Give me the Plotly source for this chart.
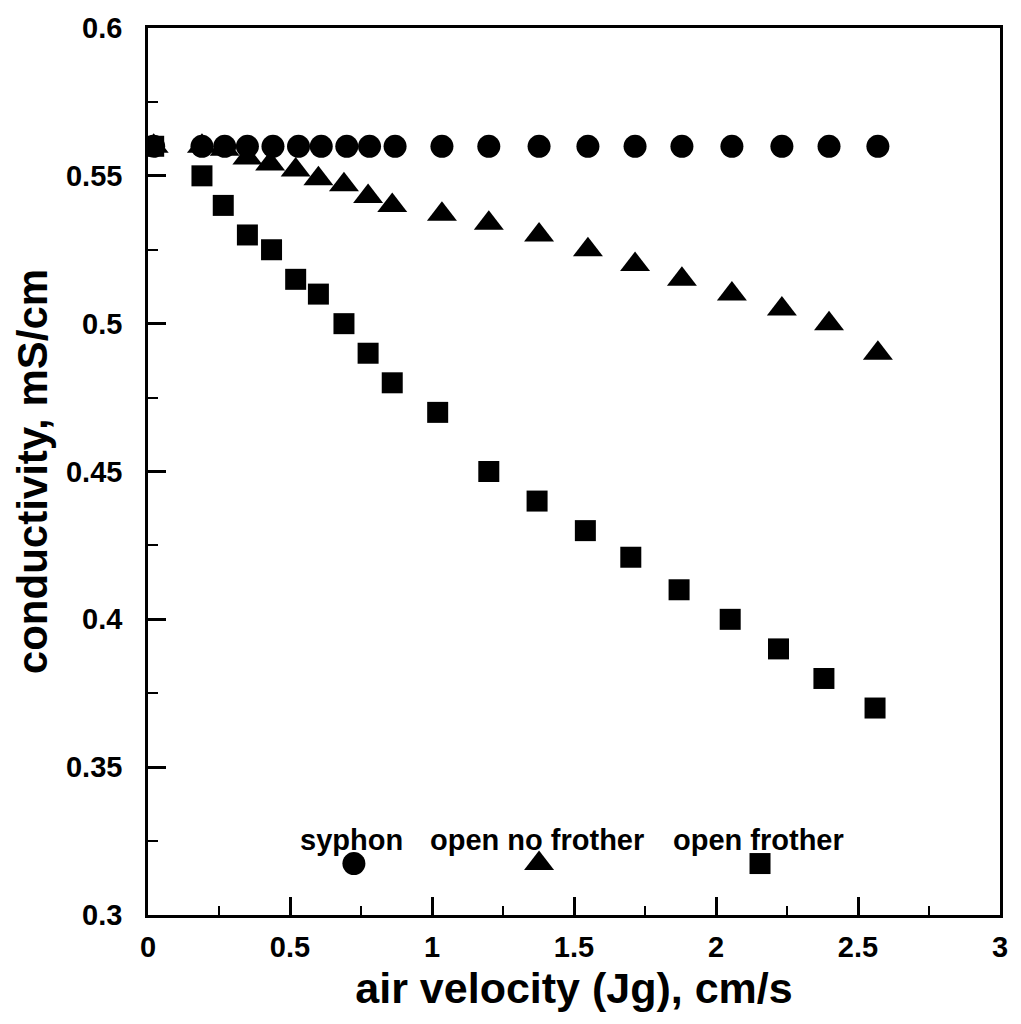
import plotly.graph_objects as go

# ---- data ----
x_circle = [0.02, 0.19, 0.27, 0.35, 0.44, 0.53, 0.61, 0.70, 0.78, 0.87,
            1.035, 1.20, 1.377, 1.549, 1.715, 1.88, 2.056, 2.232, 2.398, 2.57]
y_circle = [0.56] * 20

x_tri = [0.02, 0.19, 0.27, 0.35, 0.43, 0.52, 0.60, 0.69, 0.775, 0.86,
         1.035, 1.20, 1.377, 1.549, 1.715, 1.88, 2.056, 2.232, 2.398, 2.57]
y_tri = [0.56, 0.56, 0.559, 0.556, 0.554, 0.552, 0.549, 0.547, 0.543, 0.540,
         0.537, 0.534, 0.530, 0.525, 0.520, 0.515, 0.510, 0.505, 0.500, 0.490]

x_sq = [0.02, 0.19, 0.265, 0.35, 0.435, 0.52, 0.60, 0.69, 0.775, 0.86,
        1.02, 1.20, 1.37, 1.54, 1.70, 1.87, 2.05, 2.22, 2.38, 2.56]
y_sq = [0.56, 0.55, 0.54, 0.53, 0.525, 0.515, 0.51, 0.50, 0.49, 0.48,
        0.47, 0.45, 0.44, 0.43, 0.421, 0.41, 0.40, 0.39, 0.38, 0.37]

legend_names = ["syphon", "open no frother", "open frother"]
legend_text_x = [0.718, 1.37, 2.148]
legend_marker_x = [0.725, 1.377, 2.155]
legend_text_y = 0.3255
legend_marker_y = 0.3174
legend_symbols = ["circle", "triangle-up", "square"]

x_ticks = [0, 0.5, 1, 1.5, 2, 2.5, 3]
x_tick_labels = ["0", "0.5", "1", "1.5", "2", "2.5", "3"]
y_ticks = [0.3, 0.35, 0.4, 0.45, 0.5, 0.55, 0.6]
y_tick_labels = ["0.3", "0.35", "0.4", "0.45", "0.5", "0.55", "0.6"]

FONT = "Liberation Sans, Arial, sans-serif"
sizes = {"circle": 23, "triangle-up": 26, "square": 21}

fig = go.Figure()
fig.add_trace(go.Scatter(x=x_sq, y=y_sq, mode="markers",
                         marker=dict(symbol="square", size=sizes["square"], color="black")))
fig.add_trace(go.Scatter(x=x_tri, y=y_tri, mode="markers",
                         marker=dict(symbol="triangle-up", size=sizes["triangle-up"], color="black")))
fig.add_trace(go.Scatter(x=x_circle, y=y_circle, mode="markers",
                         marker=dict(symbol="circle", size=sizes["circle"], color="black")))

# legend-like key inside the plot
for name, tx, mx, sym in zip(legend_names, legend_text_x, legend_marker_x, legend_symbols):
    fig.add_trace(go.Scatter(x=[mx], y=[legend_marker_y], mode="markers",
                             marker=dict(symbol=sym, size=sizes[sym], color="black")))
    fig.add_annotation(x=tx, y=legend_text_y, text=name, showarrow=False,
                       font=dict(family=FONT, size=29, color="black", weight="bold"),
                       xanchor="center", yanchor="middle")

axis_common = dict(
    showgrid=False, zeroline=False, showline=True, linecolor="black", linewidth=2.5,
    mirror=True, ticks="inside", ticklen=18, tickwidth=2.5, tickcolor="black",
    tickfont=dict(family=FONT, size=29, color="black", weight="bold"),
)

fig.update_xaxes(range=[0, 3], tickvals=x_ticks, ticktext=x_tick_labels,
                 minor=dict(dtick=0.25, ticks="inside", ticklen=9, tickwidth=2, tickcolor="black"),
                 title=dict(text="air velocity (Jg), cm/s",
                            font=dict(family=FONT, size=43, color="black", weight="bold"),
                            standoff=12),
                 ticklabelstandoff=4,
                 **axis_common)
fig.update_yaxes(range=[0.3, 0.6], tickvals=y_ticks, ticktext=y_tick_labels,
                 minor=dict(dtick=0.025, ticks="inside", ticklen=10, tickwidth=2, tickcolor="black"),
                 title=dict(text="conductivity, mS/cm",
                            font=dict(family=FONT, size=42, color="black", weight="bold"),
                            standoff=6),
                 ticklabelstandoff=17,
                 **axis_common)

fig.update_layout(
    width=1021, height=1024,
    margin=dict(l=148, r=21, t=20, b=109),
    paper_bgcolor="white", plot_bgcolor="white",
    showlegend=False,
)

fig.write_html("out.html")
